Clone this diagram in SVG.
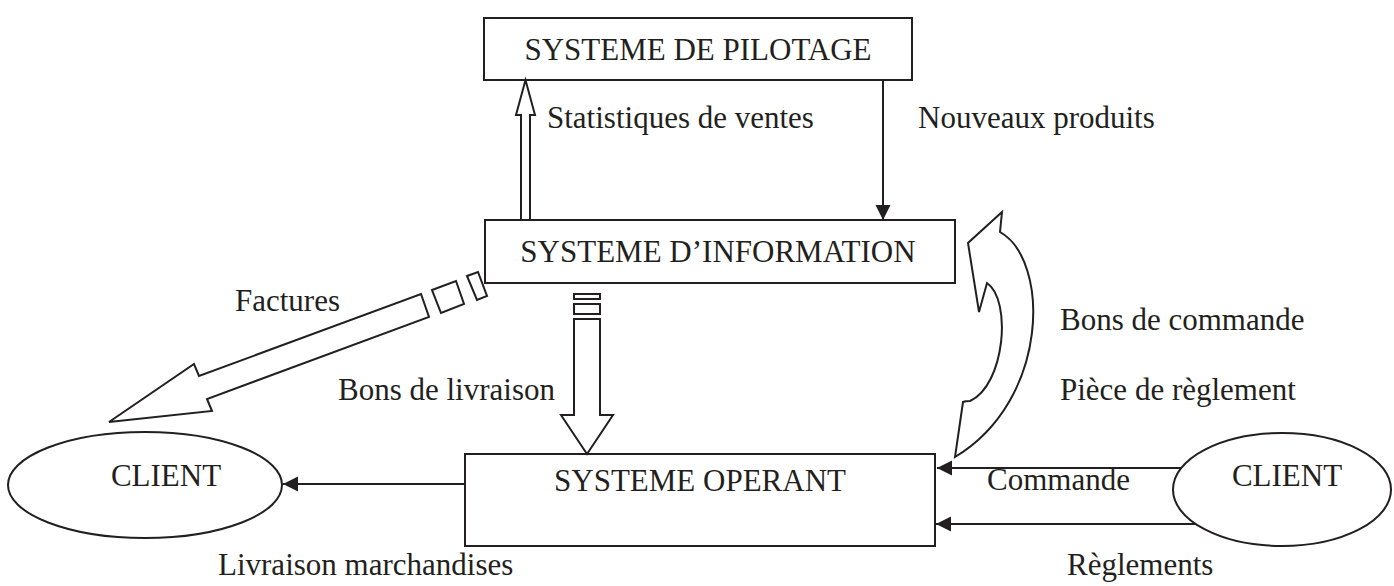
<svg xmlns="http://www.w3.org/2000/svg" width="1394" height="586" viewBox="0 0 1394 586">
  <style>
    .box { fill: #fff; stroke: #231f20; stroke-width: 2; }
    .shape { fill: #fff; stroke: #231f20; stroke-width: 2; stroke-linejoin: miter; }
    .line { fill: none; stroke: #231f20; stroke-width: 2; }
    text { font-family: "Liberation Serif", "Times New Roman", serif; font-size: 31px; fill: #231f20; }
    .c { text-anchor: middle; }
  </style>
  <defs>
    <marker id="head" markerWidth="16" markerHeight="16" refX="15" refY="7.5" orient="auto" markerUnits="userSpaceOnUse">
      <path d="M0,0 L15,7.5 L0,15 Z" fill="#231f20"/>
    </marker>
  </defs>

  <!-- nodes -->
  <g id="pilotage">
    <rect class="box" x="484" y="18" width="428" height="62"/>
    <text class="c" x="698" y="60">SYSTEME DE PILOTAGE</text>
  </g>
  <g id="information">
    <rect class="box" x="485" y="220" width="470" height="63"/>
    <text class="c" x="718" y="262">SYSTEME D’INFORMATION</text>
  </g>
  <g id="operant">
    <rect class="box" x="465" y="454" width="470" height="92"/>
    <text class="c" x="700" y="491">SYSTEME OPERANT</text>
  </g>
  <g id="client-left">
    <ellipse class="box" cx="145" cy="485" rx="137" ry="53"/>
    <text class="c" x="166" y="486">CLIENT</text>
  </g>
  <g id="client-right">
    <ellipse class="box" cx="1282" cy="489.5" rx="109" ry="56.5"/>
    <text class="c" x="1287" y="486">CLIENT</text>
  </g>

  <!-- connectors -->
  <g id="connectors">
    <!-- Statistiques de ventes: hollow arrow up -->
    <polygon class="shape" points="521,220 521,115 516,115 525.5,80 535,115 530,115 530,220"/>
    <!-- Nouveaux produits: thin arrow down -->
    <line class="line" x1="883" y1="80" x2="883" y2="220" marker-end="url(#head)"/>
    <!-- Factures: broken block arrow towards the left client -->
    <polygon class="shape" points="467,276 478,272 487,296 477,300"/>
    <polygon class="shape" points="432,290 456,281 464,304 441,313"/>
    <polygon class="shape" points="109,422 194,364 199,376 421,294 429,317 207,399 212,411"/>
    <!-- Bons de livraison: broken block arrow down -->
    <rect class="shape" x="574" y="294" width="26" height="5"/>
    <rect class="shape" x="574" y="304" width="26" height="10"/>
    <polygon class="shape" points="574,319 600,319 600,415 613,415 587,454 561,415 574,415"/>
    <!-- Bons de commande / Pièce de règlement: curved block arrow up -->
    <path class="shape" d="M1002,212 L1000,232 C1050,260 1050,400 955,457 L963,402 C965,401 968,401 970,401 C1005,385 1012,300 987,283 L979,312 L968,243 Z"/>
    <!-- Livraison marchandises -->
    <line class="line" x1="465" y1="484" x2="283" y2="484" marker-end="url(#head)"/>
    <!-- Commande -->
    <line class="line" x1="1181" y1="468" x2="937" y2="468" marker-end="url(#head)"/>
    <!-- Règlements -->
    <line class="line" x1="1196" y1="524" x2="936" y2="524" marker-end="url(#head)"/>
  </g>

  <!-- labels -->
  <g id="labels">
    <text x="547" y="128">Statistiques de ventes</text>
    <text x="918" y="128">Nouveaux produits</text>
    <text x="235" y="311">Factures</text>
    <text x="338" y="400">Bons de livraison</text>
    <text x="1060" y="330">Bons de commande</text>
    <text x="1060" y="400">Pièce de règlement</text>
    <text x="987" y="490">Commande</text>
    <text x="218" y="575">Livraison marchandises</text>
    <text x="1067" y="575">Règlements</text>
  </g>
</svg>
